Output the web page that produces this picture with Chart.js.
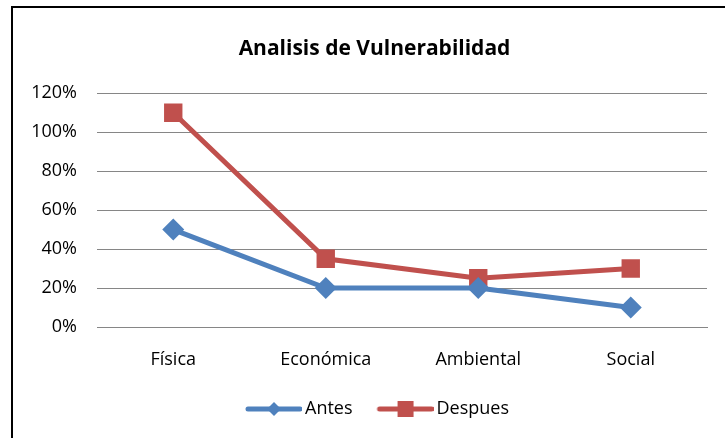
<!DOCTYPE html>
<html>
<head>
<meta charset="utf-8">
<script src="https://cdn.jsdelivr.net/npm/chart.js@4/dist/chart.umd.min.js"></script>
<style>
  html, body { margin: 0; padding: 0; background: #fff; }
  #wrap { position: relative; width: 725px; height: 438px; }
  #frame { position: absolute; left: 11px; top: 6px; right: -5px; bottom: -5px;
           border-left: 2px solid #000; border-top: 2px solid #000; }
  canvas { position: absolute; left: 0; top: 0; }
</style>
</head>
<body>
<div id="wrap">
  <div id="frame"></div>
  <canvas id="chart" width="725" height="438"></canvas>
</div>
<script>
"use strict";

// ---------------- data ----------------
let categories = ["Física", "Económica", "Ambiental", "Social"];
let antes = [0.50, 0.20, 0.20, 0.10];
let despues = [1.10, 0.35, 0.25, 0.30];
let yTicks = [0, 0.2, 0.4, 0.6, 0.8, 1.0, 1.2];

let blue = "#4f81bd";
let red = "#c0504d";
let font = "'Open Sans', 'Liberation Sans', sans-serif";

// legend icon: line with marker in the middle
// (image is wider than the legend box so the line runs up close to the text)
function legendIcon(color, shape) {
  let c = document.createElement("canvas");
  c.width = 68;
  c.height = 20;
  let ctx = c.getContext("2d");
  ctx.strokeStyle = color;
  ctx.lineWidth = 5;
  ctx.lineCap = "round";
  ctx.beginPath();
  ctx.moveTo(14, 10);
  ctx.lineTo(66, 10);
  ctx.stroke();
  ctx.fillStyle = color;
  ctx.beginPath();
  if (shape == "diamond") {
    ctx.moveTo(40, 3);
    ctx.lineTo(47, 10);
    ctx.lineTo(40, 17);
    ctx.lineTo(33, 10);
  } else {
    ctx.rect(32, 2, 16, 16);
  }
  ctx.closePath();
  ctx.fill();
  return c;
}
let icons = [legendIcon(blue, "diamond"), legendIcon(red, "square")];

// title and legend sit a bit right of the canvas centre in the original
let shiftBoxes = {
  id: "shiftBoxes",
  afterLayout(chart) {
    let dx = 15;
    chart.titleBlock.left += dx;
    chart.titleBlock.right += dx;
    chart.legend.left += dx;
    chart.legend.right += dx;
  }
};

let chart = new Chart(document.getElementById("chart").getContext("2d"), {
  type: "line",
  data: {
    labels: categories,
    datasets: [{
      label: "Antes",
      data: antes,
      borderColor: blue,
      backgroundColor: blue,
      borderWidth: 5,
      pointStyle: "rectRot",
      pointRadius: 11,
      pointHoverRadius: 11,
      pointBorderWidth: 0
    }, {
      label: "Despues",
      data: despues,
      borderColor: red,
      backgroundColor: red,
      borderWidth: 5,
      pointStyle: "rect",
      pointRadius: 13,
      pointHoverRadius: 13,
      pointBorderWidth: 0
    }]
  },
  options: {
    responsive: false,
    animation: false,
    layout: { padding: { left: 12, right: 18, top: 6, bottom: 10 } },
    plugins: {
      title: {
        display: true,
        text: "Analisis de Vulnerabilidad",
        color: "#000",
        font: { family: font, size: 21, weight: "bold" },
        padding: { top: 30, bottom: 32 }
      },
      legend: {
        position: "bottom",
        labels: {
          usePointStyle: true,
          pointStyleWidth: 56,
          color: "#000",
          font: { family: font, size: 18 },
          padding: 19,
          generateLabels: function (chart) {
            return chart.data.datasets.map(function (ds, i) {
              return {
                text: ds.label,
                pointStyle: icons[i],
                fillStyle: ds.borderColor,
                strokeStyle: ds.borderColor,
                lineWidth: 0,
                datasetIndex: i
              };
            });
          }
        }
      },
      tooltip: { enabled: false }
    },
    scales: {
      x: {
        offset: true,
        grid: { display: false, drawTicks: false },
        border: { color: "#868686", width: 1 },
        ticks: { color: "#000", font: { family: font, size: 18 }, padding: 22 },
        afterFit: function (scale) { scale.height = 54; }
      },
      y: {
        min: 0,
        max: 1.2,
        afterBuildTicks: function (scale) {
          scale.ticks = yTicks.map(v => ({ value: v }));
        },
        grid: { color: "#868686", lineWidth: 1, drawTicks: false },
        border: { display: false },
        ticks: {
          color: "#000",
          font: { family: font, size: 18 },
          padding: 20,
          callback: v => Math.round(v * 100) + "%"
        },
        afterFit: function (scale) { scale.width = 85; }
      }
    }
  },
  plugins: [shiftBoxes]
});
</script>
</body>
</html>
